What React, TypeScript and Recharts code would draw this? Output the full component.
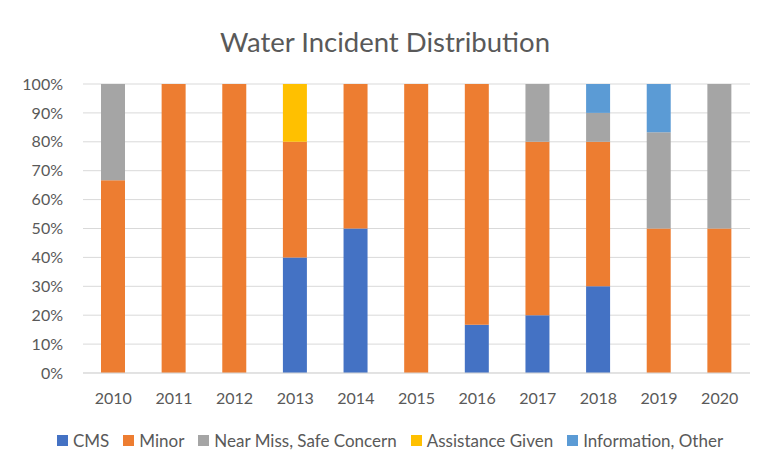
import React from 'react';
import { BarChart, Bar, XAxis, YAxis, CartesianGrid, Legend } from 'recharts';

const years = ['2010', '2011', '2012', '2013', '2014', '2015', '2016', '2017', '2018', '2019', '2020'];
const cms = [0, 0, 0, 40, 50, 0, 16.7, 20, 30, 0, 0];
const minor = [66.7, 100, 100, 40, 50, 100, 83.3, 60, 50, 50, 50];
const nearMiss = [33.3, 0, 0, 0, 0, 0, 0, 20, 10, 33.3, 50];
const assistance = [0, 0, 0, 20, 0, 0, 0, 0, 0, 0, 0];
const information = [0, 0, 0, 0, 0, 0, 0, 0, 10, 16.7, 0];
const yTicks = [0, 10, 20, 30, 40, 50, 60, 70, 80, 90, 100];

const series = [
  { key: 'CMS', values: cms, color: '#4472C4' },
  { key: 'Minor', values: minor, color: '#ED7D31' },
  { key: 'Near Miss, Safe Concern', values: nearMiss, color: '#A5A5A5' },
  { key: 'Assistance Given', values: assistance, color: '#FFC000' },
  { key: 'Information, Other', values: information, color: '#5B9BD5' },
];

const chartData = years.map((year, i) => {
  const row: { [key: string]: string | number } = { year };
  series.forEach((s) => {
    row[s.key] = s.values[i];
  });
  return row;
});

const font = 'Lato, "Open Sans", sans-serif';
const textColor = '#595959';

// keep the legend in series order (recharts sorts it otherwise)
const renderLegend = () => (
  <div
    style={{
      display: 'flex',
      justifyContent: 'center',
      fontSize: 17,
      fontFamily: font,
      color: textColor,
      paddingLeft: 38,
      paddingTop: 17,
    }}
  >
    {series.map((s) => (
      <div key={s.key} style={{ display: 'flex', alignItems: 'center', marginRight: 14 }}>
        <span style={{ width: 11, height: 11, background: s.color, marginRight: 5, display: 'inline-block' }} />
        <span>{s.key}</span>
      </div>
    ))}
  </div>
);

const App: React.FC = () => {
  return (
    <div
      style={{
        position: 'relative',
        width: 760,
        height: 470,
        borderTop: '1px solid #d9d9d9',
        borderLeft: '1px solid #d9d9d9',
        background: '#fff',
        fontFamily: font,
        marginLeft: -3,
        marginTop: -3,
      }}
    >
      <div
        style={{
          position: 'absolute',
          top: 19,
          left: 0,
          width: 758,
          textAlign: 'center',
          fontSize: 27.5,
          color: textColor,
        }}
      >
        Water Incident Distribution
      </div>
      <BarChart
        width={752}
        height={463}
        data={chartData}
        margin={{ top: 78, right: 8, left: 0, bottom: 10 }}
      >
        <CartesianGrid vertical={false} stroke="#d9d9d9" />
        <XAxis
          dataKey="year"
          axisLine={{ stroke: '#d9d9d9' }}
          tickLine={false}
          tick={{ fill: textColor, fontSize: 16, fontFamily: font }}
          tickMargin={14}
          height={40}
        />
        <YAxis
          domain={[0, 100]}
          ticks={yTicks}
          tickFormatter={(v: number) => `${v}%`}
          axisLine={false}
          tickLine={false}
          tick={{ fill: textColor, fontSize: 16, fontFamily: font }}
          tickMargin={14}
          width={77}
          interval={0}
        />
        <Legend verticalAlign="bottom" height={46} content={renderLegend} />
        {series.map((s) => (
          <Bar
            key={s.key}
            dataKey={s.key}
            stackId="a"
            fill={s.color}
            barSize={24}
            isAnimationActive={false}
          />
        ))}
      </BarChart>
    </div>
  );
};

export default App;
